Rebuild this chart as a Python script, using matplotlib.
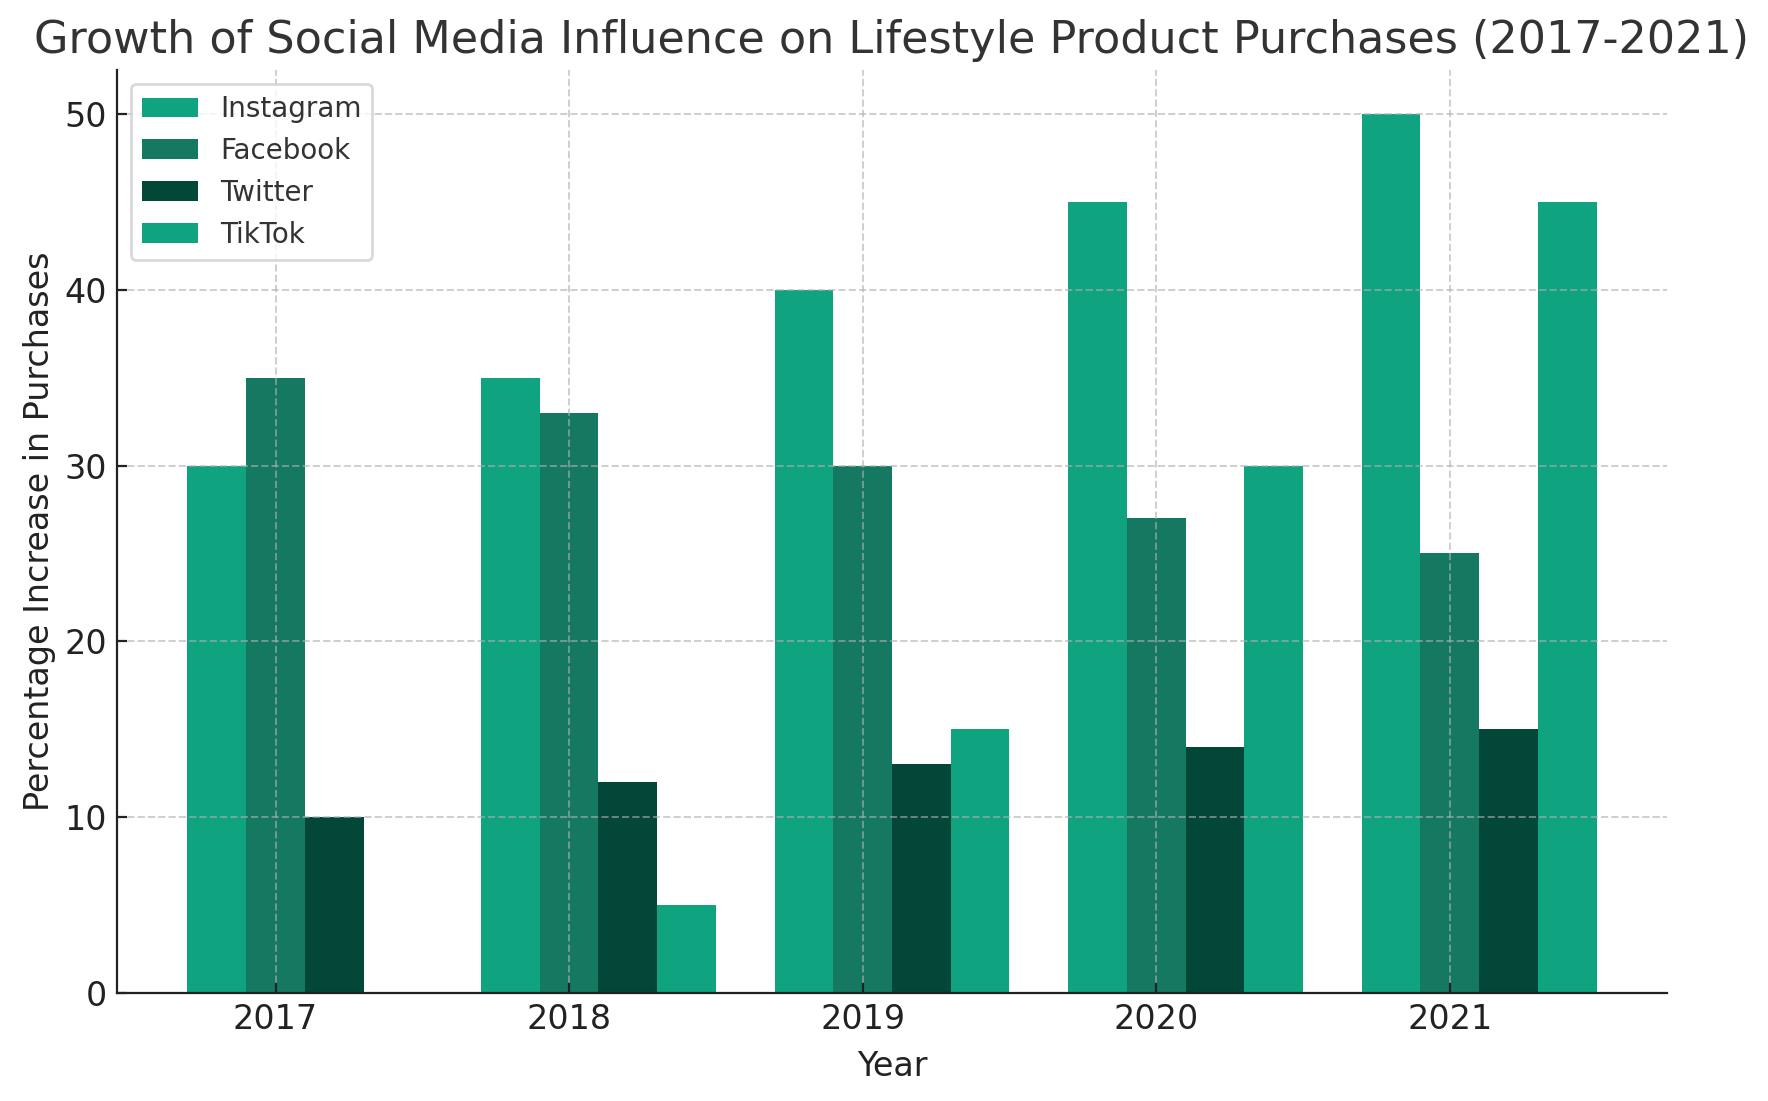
import matplotlib
matplotlib.use("Agg")
import matplotlib.pyplot as plt
import numpy as np

years = ["2017", "2018", "2019", "2020", "2021"]
instagram = [30, 35, 40, 45, 50]
facebook = [35, 33, 30, 27, 25]
twitter = [10, 12, 13, 14, 15]
tiktok = [0, 5, 15, 30, 45]

series_names = ["Instagram", "Facebook", "Twitter", "TikTok"]
colors = ["#10a37f", "#147960", "#024737", "#10a37f"]

plt.rcParams['font.family'] = ['DejaVu Sans']
fig = plt.figure(figsize=(8.84, 5.505), dpi=200)
ax = fig.add_axes([117/1768, 1 - 993/1101, (1667-117)/1768, (993-70)/1101])

x = np.arange(len(years))
w = 0.2
offsets = [-0.2, 0.0, 0.2, 0.4]
for vals, name, c, off in zip([instagram, facebook, twitter, tiktok], series_names, colors, offsets):
    ax.bar(x + off, vals, w, label=name, color=c)

ax.set_xticks(x)
ax.set_xticklabels(years)
ax.tick_params(labelsize=12, colors="#222222", direction="in")
ax.set_xlabel("Year", fontsize=12, color="#222222", labelpad=5)
ax.set_ylabel("Percentage Increase in Purchases", fontsize=12, color="#222222", labelpad=3)
ax.set_title("Growth of Social Media Influence on Lifestyle Product Purchases (2017-2021)", fontsize=16, color="#333333")
ax.set_axisbelow(False)
ax.grid(True, linestyle="--", color="#b0b0b0", alpha=0.6, linewidth=0.7)
for s in ["top", "right"]:
    ax.spines[s].set_visible(False)
for s in ["left", "bottom"]:
    ax.spines[s].set_color("#222222")
    ax.spines[s].set_zorder(5)
leg = ax.legend(loc="upper left", fontsize=10, labelcolor="#333333")
leg.get_frame().set_edgecolor("#d0d0d0")
fig.savefig("out.png", dpi=200)
